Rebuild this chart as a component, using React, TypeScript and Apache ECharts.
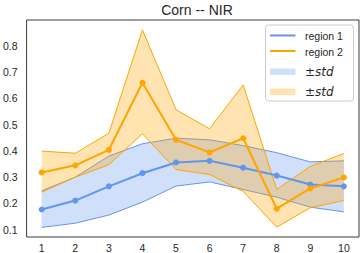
import React, { useEffect, useRef } from "react";
import * as echarts from "echarts";

const xValues = [1, 2, 3, 4, 5, 6, 7, 8, 9, 10];
const yTicks = [0.1, 0.2, 0.3, 0.4, 0.5, 0.6, 0.7, 0.8];

const region1Mean = [0.177, 0.211, 0.265, 0.315, 0.356, 0.362, 0.336, 0.306, 0.272, 0.265];
const region1Upper = [0.248, 0.3, 0.38, 0.427, 0.448, 0.442, 0.42, 0.393, 0.358, 0.362];
const region1Lower = [0.109, 0.125, 0.156, 0.205, 0.266, 0.282, 0.253, 0.224, 0.186, 0.168];

const region2Mean = [0.318, 0.345, 0.404, 0.659, 0.442, 0.394, 0.448, 0.18, 0.257, 0.299];
const region2Upper = [0.399, 0.391, 0.467, 0.86, 0.556, 0.484, 0.651, 0.253, 0.341, 0.39];
const region2Lower = [0.243, 0.3, 0.347, 0.465, 0.329, 0.31, 0.246, 0.11, 0.184, 0.211];

const BLUE = "#6495ED";
const ORANGE = "#FFA500";
const INK = "#262626";
const FONT = "'Liberation Sans', Arial, sans-serif";
const MATH = "'DejaVu Sans', sans-serif";

function bandSeries(name: string, lower: number[], upper: number[], color: string, fill: string) {
  return {
    type: "custom",
    name,
    data: xValues.map((x, i) => [x, lower[i], upper[i]]),
    encode: { x: 0, y: [1, 2] },
    renderItem: (params: any, api: any) => {
      if (params.dataIndex !== 0) return null;
      const up = xValues.map((x, i) => api.coord([x, upper[i]]));
      const lo = xValues.map((x, i) => api.coord([x, lower[i]]));
      const poly = up.concat(lo.slice().reverse());
      return {
        type: "group",
        children: [
          { type: "polygon", shape: { points: poly }, style: { fill, stroke: "none" } },
          { type: "polyline", shape: { points: up }, style: { fill: "none", stroke: color, lineWidth: 1 } },
          { type: "polyline", shape: { points: lo }, style: { fill: "none", stroke: color, lineWidth: 1 } },
        ],
      };
    },
  };
}

function lineSeries(name: string, values: number[], color: string) {
  return {
    type: "line",
    name,
    data: xValues.map((x, i) => [x, values[i]]),
    symbol: "circle",
    symbolSize: 6,
    showSymbol: true,
    lineStyle: { color, width: 2 },
    itemStyle: { color },
  };
}

function stdLabel(y: number) {
  return {
    type: "text",
    x: 305,
    y,
    style: {
      text: "±{i|std}",
      fill: INK,
      font: `12px ${MATH}`,
      verticalAlign: "middle",
      rich: { i: { fontStyle: "italic", fontFamily: MATH, fontSize: 12, fill: INK } },
    },
    z: 101,
  };
}

export default function App() {
  const ref = useRef<HTMLDivElement>(null);
  useEffect(() => {
    if (!ref.current) return;
    const chart = echarts.init(ref.current, undefined, { renderer: "svg" });
    const legendX = 270;
    const textX = 305;
    chart.setOption({
      animation: false,
      backgroundColor: "#ffffff",
      title: {
        text: "Corn -- NIR",
        left: 192,
        textAlign: "center",
        top: -2,
        textStyle: { fontFamily: FONT, fontSize: 14, fontWeight: "normal", color: INK },
      },
      grid: {
        left: 25,
        right: 3,
        top: 20,
        bottom: 16,
        show: true,
        borderColor: "#3a3a3a",
        borderWidth: 1,
        backgroundColor: "transparent",
      },
      xAxis: {
        type: "value",
        min: 0.55,
        max: 10.45,
        splitLine: { show: false },
        axisLine: { show: false },
        axisTick: { show: false },
        axisLabel: {
          customValues: xValues,
          margin: 5,
          fontFamily: FONT,
          fontSize: 10.5,
          color: INK,
          formatter: (v: number) => String(Math.round(v)),
        },
      },
      yAxis: {
        type: "value",
        min: 0.0725,
        max: 0.8975,
        splitLine: { show: false },
        axisLine: { show: false },
        axisTick: { show: false },
        axisLabel: {
          customValues: yTicks,
          margin: 9,
          fontFamily: FONT,
          fontSize: 10.5,
          color: INK,
          formatter: (v: number) => v.toFixed(1),
        },
      },
      series: [
        lineSeries("region 1", region1Mean, BLUE),
        bandSeries("band 1", region1Lower, region1Upper, BLUE, "rgba(100,149,237,0.3)"),
        lineSeries("region 2", region2Mean, ORANGE),
        bandSeries("band 2", region2Lower, region2Upper, ORANGE, "rgba(255,165,0,0.3)"),
      ],
      graphic: [
        {
          type: "rect",
          shape: { x: 265.5, y: 25, width: 88, height: 76, r: 3 },
          style: { fill: "rgba(255,255,255,0.8)", stroke: "#cccccc", lineWidth: 1 },
          z: 100,
        },
        {
          type: "line",
          shape: { x1: legendX, y1: 35.5, x2: legendX + 25.5, y2: 35.5 },
          style: { stroke: BLUE, lineWidth: 2 },
          z: 101,
        },
        {
          type: "line",
          shape: { x1: legendX, y1: 51, x2: legendX + 25.5, y2: 51 },
          style: { stroke: ORANGE, lineWidth: 2 },
          z: 101,
        },
        {
          type: "rect",
          shape: { x: legendX, y: 68.5, width: 25.5, height: 6.5 },
          style: { fill: "rgba(100,149,237,0.3)" },
          z: 101,
        },
        {
          type: "rect",
          shape: { x: legendX, y: 88.5, width: 25.5, height: 6.5 },
          style: { fill: "rgba(255,165,0,0.3)" },
          z: 101,
        },
        {
          type: "text",
          x: textX,
          y: 36,
          style: { text: "region 1", fill: INK, font: `10.5px ${FONT}`, verticalAlign: "middle" },
          z: 101,
        },
        {
          type: "text",
          x: textX,
          y: 51.5,
          style: { text: "region 2", fill: INK, font: `10.5px ${FONT}`, verticalAlign: "middle" },
          z: 101,
        },
        stdLabel(71.5),
        stdLabel(91.5),
      ],
    });
    return () => chart.dispose();
  }, []);
  return (
    <div
      ref={ref}
      style={{ position: "absolute", left: 0, top: 0, width: 362, height: 253 }}
    />
  );
}
